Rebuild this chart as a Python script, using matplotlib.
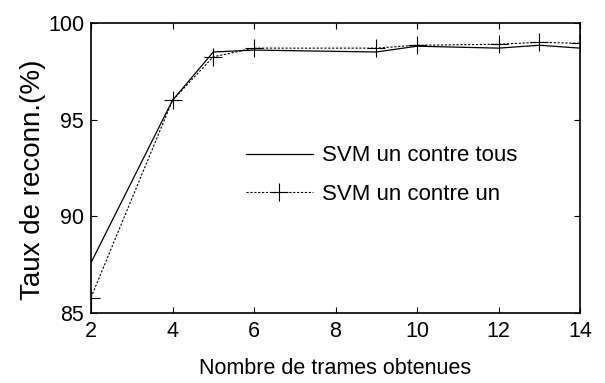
import matplotlib
matplotlib.use("Agg")
import matplotlib.pyplot as plt

plt.rcParams['font.family'] = ['Liberation Sans', 'DejaVu Sans']

frames = [2, 4, 5, 6, 9, 10, 12, 13, 14]
svm_tous = [87.6, 96.0, 98.5, 98.6, 98.5, 98.8, 98.7, 98.85, 98.7]
svm_un = [85.8, 96.0, 98.25, 98.7, 98.7, 98.85, 98.9, 99.0, 98.95]

fig = plt.figure(figsize=(6.05, 3.83), dpi=100)
ax = fig.add_axes([91 / 605, 1 - 313 / 383, 489 / 605, 290 / 383])

ax.plot(frames, svm_tous, color='black', lw=0.9, label='SVM un contre tous')
ax.plot(frames, svm_un, color='black', lw=0.8, ls=(0, (2, 1.5)), marker='+',
        markersize=13, markeredgewidth=0.8, label='SVM un contre un')

ax.set_xlim(2, 14)
ax.set_ylim(85, 100)
ax.set_xticks([2, 4, 6, 8, 10, 12, 14])
ax.set_yticks([85, 90, 95, 100])
ax.tick_params(direction='in', top=True, right=True, labelsize=15.5, length=4)
ax.tick_params(axis='x', pad=6)
ax.tick_params(axis='y', pad=5)
for s in ax.spines.values():
    s.set_linewidth(1.2)

ax.set_xlabel('Nombre de trames obtenues', fontsize=15.5, labelpad=11)
ax.set_ylabel('Taux de reconn.(%)', fontsize=20)
ax.yaxis.set_label_coords(-0.093, 0.46)

ax.legend(loc='center left', bbox_to_anchor=((246 - 91) / 489, (313 - 175) / 290),
          frameon=False, fontsize=16, handlelength=3.0, handletextpad=0.4,
          labelspacing=0.78, borderpad=0, borderaxespad=0)

fig.savefig('out.png', dpi=100)
